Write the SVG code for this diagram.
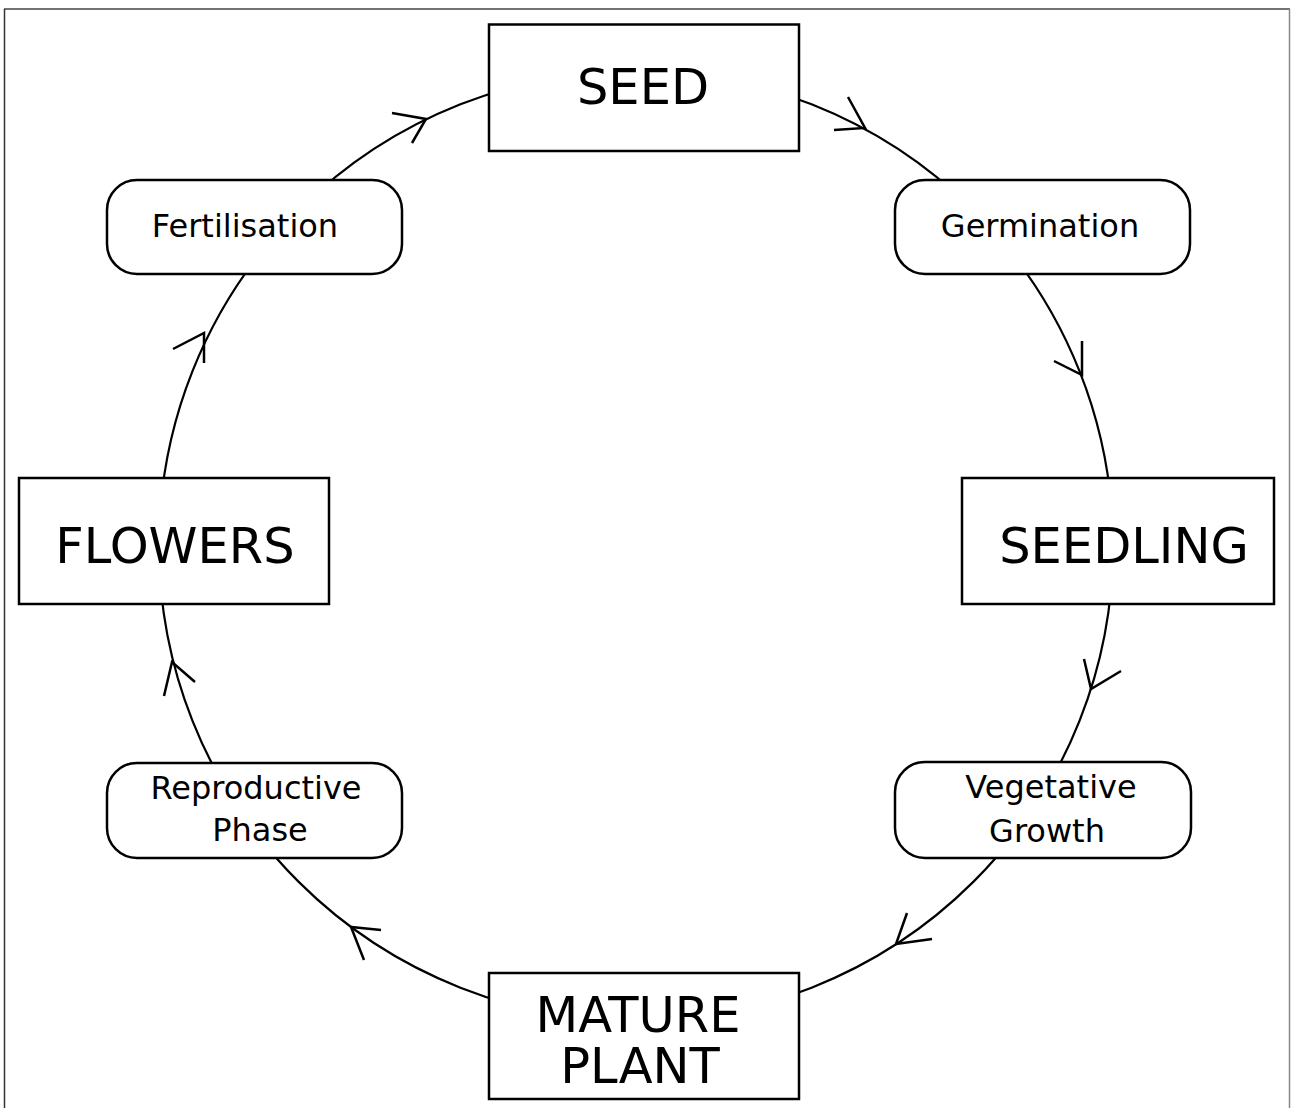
<svg xmlns="http://www.w3.org/2000/svg" width="1291" height="1108" viewBox="0 0 1291 1108">
<style>
.box{fill:#fff;stroke:#000;stroke-width:2.5}
.big{font-family:"DejaVu Sans","Liberation Sans",sans-serif;font-size:49.5px;fill:#000;text-anchor:middle}
.small{font-family:"DejaVu Sans","Liberation Sans",sans-serif;font-size:32px;fill:#000;text-anchor:middle}
.line{fill:none;stroke:#000;stroke-width:2.2}
.head{fill:none;stroke:#000;stroke-width:2.5;stroke-linejoin:miter}
</style>
<rect x="0" y="0" width="1291" height="1108" fill="#fff"/>
<g id="frame">
<line x1="4" y1="9" x2="1290" y2="9" stroke="#444" stroke-width="1.5"/>
<line x1="4.5" y1="9" x2="4.5" y2="1108" stroke="#333" stroke-width="1.5"/>
<line x1="1289.5" y1="9" x2="1289.5" y2="1108" stroke="#888" stroke-width="1.5"/>
</g>
<g id="connectors">
<ellipse class="line" cx="636" cy="546" rx="477" ry="475"/>
<path class="head" d="M848 97 L865 128 L834 130"/>
<path class="head" d="M1082 341 L1082 375 L1054 361"/>
<path class="head" d="M1084 659 L1091 689 L1121 671"/>
<path class="head" d="M907 913 L896 944 L932 939"/>
<path class="head" d="M381 930 L351 927 L364 960"/>
<path class="head" d="M164 696 L172 662 L195 682"/>
<path class="head" d="M173 349 L204 333 L204 363"/>
<path class="head" d="M392 113 L426 119 L412 143"/>
</g>
<g id="seed">
<rect class="box" x="489" y="24.5" width="310" height="126.5"/>
<text class="big" x="643" y="104">SEED</text>
</g>
<g id="germination">
<rect class="box" x="895" y="180" width="295" height="94" rx="30" ry="30"/>
<text class="small" x="1040" y="237">Germination</text>
</g>
<g id="seedling">
<rect class="box" x="962" y="478" width="312" height="126"/>
<text class="big" x="1124" y="563">SEEDLING</text>
</g>
<g id="vegetative-growth">
<rect class="box" x="895" y="762" width="296" height="96" rx="30" ry="30"/>
<text class="small" x="1051" y="798">Vegetative</text>
<text class="small" x="1047" y="842">Growth</text>
</g>
<g id="mature-plant">
<rect class="box" x="489" y="973" width="310" height="126"/>
<text class="big" x="638" y="1032">MATURE</text>
<text class="big" x="640" y="1083">PLANT</text>
</g>
<g id="reproductive-phase">
<rect class="box" x="107" y="763" width="295" height="95" rx="30" ry="30"/>
<text class="small" x="256" y="799">Reproductive</text>
<text class="small" x="260" y="841">Phase</text>
</g>
<g id="flowers">
<rect class="box" x="19" y="478" width="310" height="126"/>
<text class="big" x="175" y="563">FLOWERS</text>
</g>
<g id="fertilisation">
<rect class="box" x="107" y="180" width="295" height="94" rx="30" ry="30"/>
<text class="small" x="245" y="237">Fertilisation</text>
</g>
</svg>
